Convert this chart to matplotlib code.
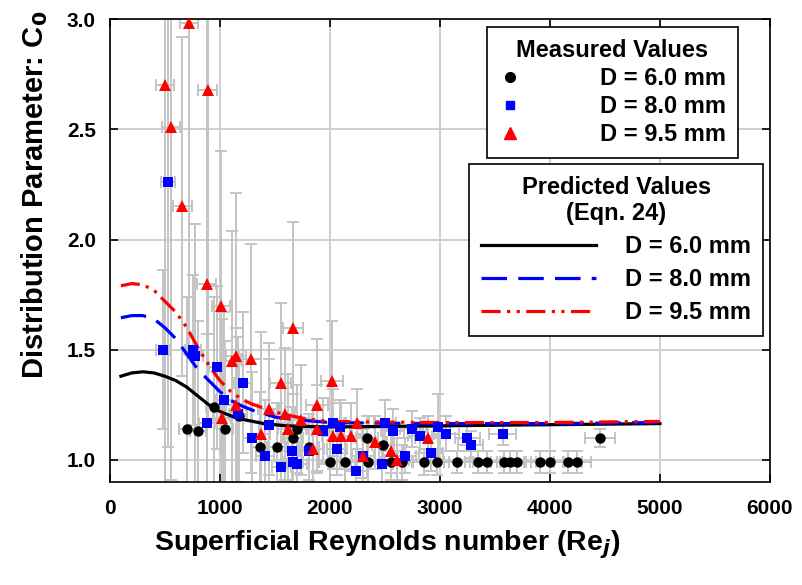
import matplotlib
matplotlib.use("Agg")
import matplotlib.pyplot as plt
from matplotlib.lines import Line2D

plt.rcParams["font.family"] = ["Liberation Sans", "DejaVu Sans"]
plt.rcParams["font.weight"] = "bold"

# measured values, D = 6.0 mm
re_6 = [700, 800, 945, 1045, 1170, 1364, 1515, 1665, 1700, 1810, 2000, 2135, 2340,
        2345, 2480, 2560, 2655, 2855, 2970, 3155, 3345, 3425, 3580, 3640, 3700,
        3910, 4000, 4165, 4245, 4455]
c0_6 = [1.14, 1.13, 1.24, 1.14, 1.20, 1.06, 1.06, 1.10, 1.14, 1.06, 0.99, 0.99, 1.10,
        0.99, 1.07, 0.99, 0.99, 0.99, 0.99, 0.99, 0.99, 0.99, 0.99, 0.99, 0.99,
        0.99, 0.99, 0.99, 0.99, 1.10]
re_err_6 = [70, 70, 75, 75, 80, 80, 85, 90, 90, 90, 95, 95, 100,
            100, 100, 105, 105, 110, 110, 115, 115, 120, 120, 120, 125,
            125, 130, 130, 130, 140]
c0_err_6 = [0.60, 0.50, 0.50, 0.40, 0.30, 0.25, 0.20, 0.20, 0.20, 0.15, 0.12, 0.12, 0.10,
            0.10, 0.08, 0.08, 0.08, 0.06, 0.06, 0.05, 0.05, 0.05, 0.05, 0.05, 0.05,
            0.05, 0.05, 0.05, 0.05, 0.04]

# measured values, D = 8.0 mm
re_8 = [480, 530, 755, 775, 885, 975, 1036, 1165, 1210, 1290, 1410, 1445, 1560, 1655,
        1665, 1700, 1810, 1935, 2030, 2065, 2090, 2240, 2300, 2470, 2500, 2570,
        2680, 2745, 2820, 2920, 2980, 3060, 3250, 3280, 3570]
c0_8 = [1.50, 2.26, 1.50, 1.47, 1.17, 1.42, 1.27, 1.21, 1.35, 1.10, 1.02, 1.16, 0.97, 1.04,
        0.99, 0.98, 1.04, 1.13, 1.17, 1.05, 1.15, 0.95, 1.02, 0.98, 1.17, 1.13,
        1.02, 1.14, 1.11, 1.03, 1.15, 1.12, 1.10, 1.07, 1.12]
re_err_8 = [65, 65, 70, 70, 75, 75, 75, 80, 80, 80, 85, 85, 90, 90,
            90, 90, 90, 95, 95, 95, 95, 100, 100, 100, 100, 105,
            105, 105, 110, 110, 110, 110, 115, 115, 120]
c0_err_8 = [0.36, 1.20, 0.34, 0.60, 0.40, 0.37, 0.40, 0.35, 0.32, 0.30, 0.25, 0.30, 0.20, 0.20,
            0.20, 0.20, 0.15, 0.15, 0.15, 0.12, 0.12, 0.10, 0.10, 0.10, 0.10, 0.10,
            0.08, 0.08, 0.08, 0.08, 0.15, 0.08, 0.06, 0.06, 0.05]

# measured values, D = 9.5 mm
re_95 = [500, 555, 660, 720, 880, 890, 1010, 1020, 1110, 1150, 1145, 1282, 1370, 1445,
         1555, 1590, 1620, 1665, 1736, 1845, 1880, 1880, 2020, 2030, 2100, 2190,
         2250, 2300, 2410, 2555, 2610, 2890]
c0_95 = [2.70, 2.51, 2.15, 2.98, 1.80, 2.68, 1.70, 1.19, 1.45, 1.47, 1.25, 1.46, 1.12, 1.23,
         1.35, 1.21, 1.14, 1.60, 1.18, 1.05, 1.25, 1.14, 1.36, 1.11, 1.11, 1.11,
         1.17, 1.02, 1.08, 1.04, 1.00, 1.10]
re_err_95 = [85, 85, 85, 85, 85, 85, 85, 85, 90, 90, 90, 90, 90, 95,
             95, 95, 95, 95, 100, 100, 100, 100, 100, 100, 105, 105,
             105, 105, 110, 110, 110, 115]
c0_err_95 = [1.90, 1.60, 0.77, 1.50, 1.30, 1.50, 0.70, 0.45, 0.59, 0.74, 0.35, 0.52, 0.46, 0.30,
             0.36, 0.30, 0.25, 0.48, 0.25, 0.20, 0.30, 0.20, 0.27, 0.15, 0.15, 0.15,
             0.15, 0.12, 0.12, 0.10, 0.10, 0.10]

# predicted values (Eqn. 24)
re_pred = [100, 200, 300, 400, 500, 600, 700, 800, 900, 1000, 1100, 1200, 1300, 1400,
           1500, 1600, 1800, 2000, 2500, 3000, 4000, 5000]
pred_6 = [1.380, 1.395, 1.400, 1.395, 1.380, 1.360, 1.330, 1.290, 1.250, 1.220, 1.200, 1.185,
          1.175, 1.165, 1.160, 1.155, 1.152, 1.150, 1.152, 1.155, 1.160, 1.165]
pred_8 = [1.645, 1.655, 1.655, 1.640, 1.600, 1.550, 1.480, 1.410, 1.360, 1.310, 1.270, 1.245,
          1.225, 1.210, 1.195, 1.188, 1.178, 1.170, 1.167, 1.165, 1.165, 1.170]
pred_95 = [1.790, 1.800, 1.795, 1.770, 1.720, 1.670, 1.600, 1.510, 1.430, 1.360, 1.310, 1.275,
           1.252, 1.235, 1.218, 1.205, 1.185, 1.175, 1.172, 1.170, 1.170, 1.175]

legend_labels = ["D = 6.0 mm", "D = 8.0 mm", "D = 9.5 mm"]

err_color = "#c4c4c4"
W, H = 802, 585

fig = plt.figure(figsize=(W / 100, H / 100), dpi=100)
ax = fig.add_axes([0.137, 0.176, 0.823, 0.7915])

series = [
    (re_6, c0_6, re_err_6, c0_err_6, "o", "black", 7.5),
    (re_8, c0_8, re_err_8, c0_err_8, "s", "#0000ff", 7),
    (re_95, c0_95, re_err_95, c0_err_95, "^", "#ff0000", 9),
]
for re, c0, xe, ye, mk, col, ms in series:
    ax.errorbar(re, c0, xerr=xe, yerr=ye, fmt="none", ecolor=err_color,
                elinewidth=1.4, capsize=4, capthick=1.4, zorder=2)
for re, c0, xe, ye, mk, col, ms in series:
    ax.plot(re, c0, mk, color=col, markersize=ms, markeredgewidth=0, zorder=4,
            linestyle="none")

ax.plot(re_pred, pred_6, color="black", lw=2.3, zorder=3)
ax.plot(re_pred, pred_8, color="#0000ff", lw=2.3, dashes=(8, 3.5), zorder=3)
ax.plot(re_pred, pred_95, color="#ff0000", lw=2.3, dashes=(6, 2, 1, 2, 1, 2), zorder=3)

ax.set_xlim(0, 6000)
ax.set_ylim(0.9, 3.0)
ax.set_xticks([0, 1000, 2000, 3000, 4000, 5000, 6000])
ax.set_yticks([1.0, 1.5, 2.0, 2.5, 3.0])
ax.set_yticklabels(["1.0", "1.5", "2.0", "2.5", "3.0"])
ax.grid(True, color="#cccccc", lw=1.3, zorder=0)
ax.set_axisbelow(True)
ax.tick_params(direction="in", top=True, right=True, length=6, width=1.2,
               labelsize=15)
ax.tick_params(axis="x", pad=12)
ax.tick_params(axis="y", pad=10)
for lab in ax.get_xticklabels() + ax.get_yticklabels():
    lab.set_fontweight("bold")
for s in ax.spines.values():
    s.set_linewidth(1.2)

ax.set_xlabel("Superficial Reynolds number (Re$_\\mathbf{\\mathit{j}}$)",
              fontsize=20.5, fontweight="bold")
ax.xaxis.set_label_coords(0.42, -0.10)
ax.set_ylabel("Distribution Parameter: C$_\\mathbf{0}$", fontsize=21,
              fontweight="bold")
ax.yaxis.set_label_coords(-0.09, 0.62)

# legends
fs = 17
meas_handles = [
    Line2D([], [], marker="o", color="black", ls="none", markersize=7),
    Line2D([], [], marker="s", color="#0000ff", ls="none", markersize=6),
    Line2D([], [], marker="^", color="#ff0000", ls="none", markersize=8),
]
leg1 = ax.legend(meas_handles, legend_labels, title="Measured Values",
                 loc="upper right", bbox_to_anchor=(738 / W, 1 - 27 / H),
                 bbox_transform=fig.transFigure,
                 prop={"size": fs, "weight": "bold"}, frameon=True, fancybox=False,
                 edgecolor="black", framealpha=1, handlelength=1.0,
                 handletextpad=3.3, labelspacing=0.22, borderpad=0.5,
                 borderaxespad=0)
leg1.get_title().set_fontweight("bold")
leg1.get_title().set_fontsize(fs)
leg1.get_frame().set_linewidth(1.2)
ax.add_artist(leg1)

pred_handles = [
    Line2D([], [], color="black", lw=2.3),
    Line2D([], [], color="#0000ff", lw=2.3, dashes=(8, 3.5)),
    Line2D([], [], color="#ff0000", lw=2.3, dashes=(6, 2, 1, 2, 1, 2)),
]
leg2 = ax.legend(pred_handles, legend_labels, title="Predicted Values\n(Eqn. 24)",
                 loc="upper right", bbox_to_anchor=(763 / W, 1 - 164 / H),
                 bbox_transform=fig.transFigure,
                 prop={"size": fs, "weight": "bold"}, frameon=True, fancybox=False,
                 edgecolor="black", framealpha=1, handlelength=4.87,
                 handletextpad=1.23, labelspacing=0.42, borderpad=0.5,
                 borderaxespad=0)
leg2.get_title().set_fontweight("bold")
leg2.get_title().set_fontsize(fs)
leg2.get_title().set_multialignment("center")
leg2.get_frame().set_linewidth(1.2)

fig.savefig("out.png", dpi=100)
